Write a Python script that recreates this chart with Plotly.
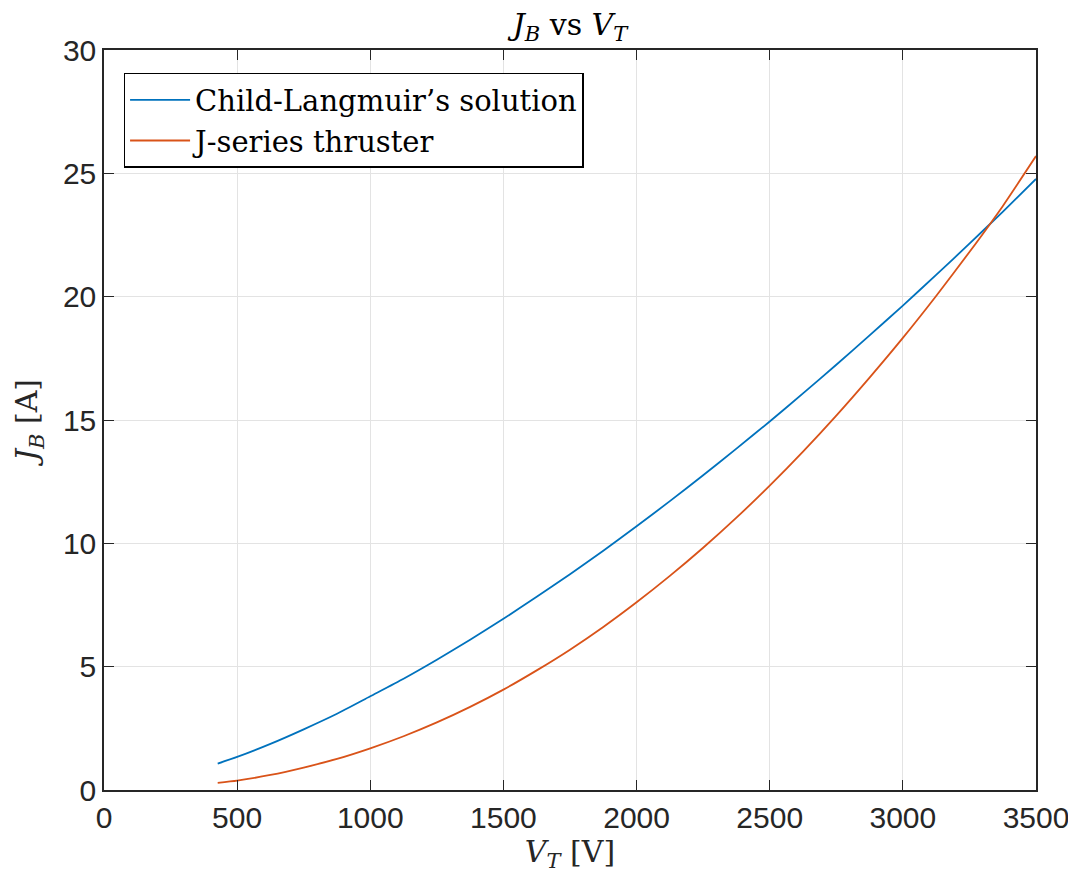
import plotly.graph_objects as go

# Data
v_t = [427, 500, 625, 750, 875, 1000, 1125, 1250, 1375, 1500, 1625, 1750, 1875,
       2000, 2125, 2250, 2375, 2500, 2625, 2750, 2875, 3000, 3125, 3250, 3375, 3500]
jb_child_langmuir = [1.07, 1.34, 1.87, 2.46, 3.09, 3.80, 4.51, 5.28, 6.09, 6.94, 7.83, 8.75, 9.70,
                     10.69, 11.71, 12.76, 13.84, 14.94, 16.08, 17.24, 18.43, 19.64, 20.88, 22.15,
                     23.44, 24.77]
jb_jseries = [0.29, 0.38, 0.61, 0.91, 1.26, 1.69, 2.18, 2.74, 3.37, 4.07, 4.85, 5.69, 6.61,
              7.61, 8.68, 9.82, 11.04, 12.34, 13.72, 15.18, 16.72, 18.33, 20.03, 21.81,
              23.67, 25.70]

x_ticks = [0, 500, 1000, 1500, 2000, 2500, 3000, 3500]
y_ticks = [0, 5, 10, 15, 20, 25, 30]

SERIF = "DejaVu Serif, Liberation Serif, serif"
SANS = "Liberation Sans, Arial, sans-serif"
AX = "#262626"

fig = go.Figure()
fig.add_trace(go.Scatter(x=v_t, y=jb_child_langmuir, mode="lines",
                         name="Child-Langmuir\u2019s solution",
                         line=dict(color="#0072BD", width=1.8, shape="spline", smoothing=0.6)))
fig.add_trace(go.Scatter(x=v_t, y=jb_jseries, mode="lines",
                         name="J-series thruster",
                         line=dict(color="#D95319", width=1.8, shape="spline", smoothing=0.6)))

axis_common = dict(
    showline=True, linecolor=AX, linewidth=1.5, mirror="ticks",
    ticks="inside", ticklen=10, tickwidth=1.3, tickcolor=AX,
    showgrid=True, gridcolor="#e3e3e3", gridwidth=1,
    zeroline=False, automargin=False,
    tickfont=dict(family=SANS, size=30, color=AX),
)

fig.update_xaxes(range=[0, 3500], tickvals=x_ticks,
                 title=dict(text="<i>V</i><sub><i>T</i></sub> [V]",
                            font=dict(family=SERIF, size=30, color=AX), standoff=8),
                 **axis_common)
fig.update_yaxes(range=[0, 30], tickvals=y_ticks,
                 title=dict(text="<i>J</i><sub><i>B</i></sub> [A]",
                            font=dict(family=SERIF, size=30, color=AX), standoff=16),
                 **axis_common)

fig.update_layout(
    width=1076, height=877,
    margin=dict(l=96, r=48, t=42, b=95),
    paper_bgcolor="white", plot_bgcolor="white",
    title=dict(text="<i>J</i><sub><i>B</i></sub> vs <i>V</i><sub><i>T</i></sub>",
               xref="paper", x=0.5, xanchor="center",
               yref="container", y=0.993, yanchor="top",
               font=dict(family=SERIF, size=30, color="black")),
    legend=dict(x=0.021, y=0.969, xanchor="left", yanchor="top",
                bgcolor="white", bordercolor="#000000", borderwidth=1.5,
                font=dict(family=SERIF, size=29, color="black"),
                tracegroupgap=0, itemwidth=60),
    showlegend=True,
)

fig.write_html("out.html")
